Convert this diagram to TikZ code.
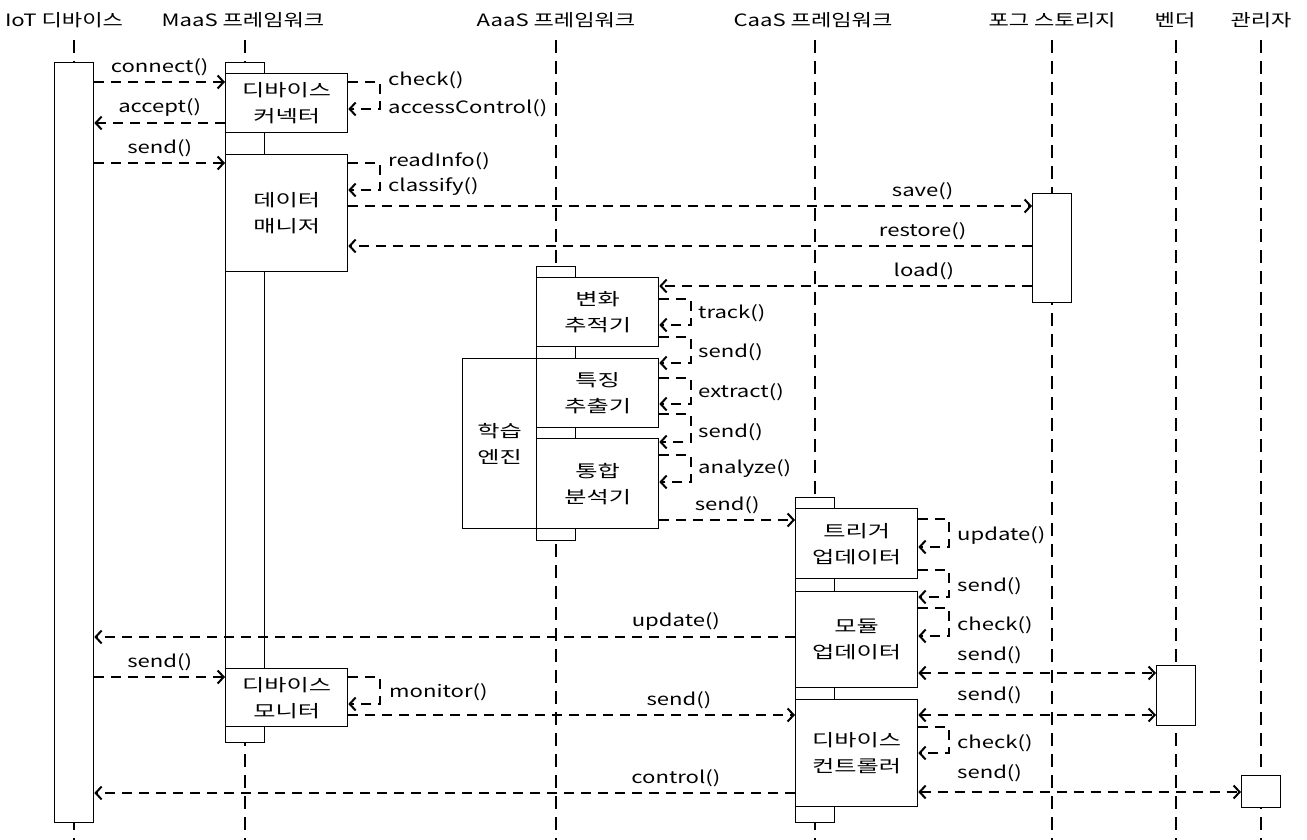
\documentclass[tikz,border=0pt]{standalone}
\usepackage{fontspec}
\setmainfont{Noto Sans CJK KR}[FakeStretch=1.3]
\newfontfamily\boxfont{Noto Sans CJK KR}[FakeStretch=1.42]
\usetikzlibrary{arrows.meta, backgrounds}

\begin{document}
\begin{tikzpicture}[x=1pt, y=-1pt, >={Straight Barb[length=6pt, width=13pt]},
  font=\fontsize{17}{26}\selectfont,
  life/.style={line width=2pt, dash pattern=on 13pt off 8pt},
  bar/.style={draw, line width=1.3pt, fill=white, anchor=north west, minimum width=39pt, inner sep=0pt},
  box/.style={draw, line width=1.3pt, fill=white, anchor=north west, minimum width=122pt, align=center, inner sep=0pt,
    font=\boxfont\fontsize{17}{26}\selectfont},
  msg/.style={line width=2pt, dash pattern=on 10pt off 7pt},
  lbl/.style={anchor=west, inner sep=0pt}]
  \useasboundingbox (0,0) rectangle (1307,840);

  % lifeline heads
  \node (iot) at (64,20) {IoT 디바이스};
  \node (maas) at (243,20) {MaaS 프레임워크};
  \node (aaas) at (556,20) {AaaS 프레임워크};
  \node (caas) at (813,20) {CaaS 프레임워크};
  \node (fog) at (1052,20) {포그 스토리지};
  \node (vendor) at (1175,20) {벤더};
  \node (admin) at (1261,20) {관리자};

  % activation bars
  \node (iotbar) [bar, minimum height=760pt] at (54,62) {};
  \node (maasbar) [bar, minimum height=680pt] at (225,62) {};
  \node (aaasbar) [bar, minimum height=274pt] at (536,266) {};
  \node (caasbar) [bar, minimum height=325pt] at (795,497) {};
  \node (fogbar) [bar, minimum height=109pt] at (1032,193) {};
  \node (vendorbar) [bar, minimum height=60pt] at (1156,665) {};
  \node (adminbar) [bar, minimum height=32pt] at (1241,775) {};

  \begin{pgfonlayer}{background}
    \foreach \b in {iotbar, maasbar, aaasbar, caasbar, fogbar, vendorbar, adminbar}
      \draw [life] (\b.north |- 0,40) -- (\b.north |- 0,840);
  \end{pgfonlayer}

  % components
  \node (connector) [box, minimum height=59pt] at (225,73) {디바이스\\커넥터};
  \node (datamgr) [box, minimum height=117pt] at (225,154) {데이터\\매니저};
  \node (monitor) [box, minimum height=58pt] at (225,668) {디바이스\\모니터};
  \node (learning) [box, minimum width=74pt, minimum height=170pt] at (462,358) {학습\\엔진};
  \node (tracker) [box, minimum height=69pt] at (536,277) {변화\\추적기};
  \node (extractor) [box, minimum height=69pt] at (536,358) {특징\\추출기};
  \node (analyzer) [box, minimum height=90pt] at (536,438) {통합\\분석기};
  \node (trigger) [box, minimum height=70pt] at (795,508) {트리거\\업데이터};
  \node (module) [box, minimum height=96pt] at (795,591) {모듈\\업데이터};
  \node (controller) [box, minimum height=107pt] at (795,699) {디바이스\\컨트롤러};

  % MaaS
  \draw [msg, ->] (iotbar.east |- 0,82) -- node (lconnect) [above=2pt] {connect()} (connector.west |- 0,82);
  \draw [msg, ->] (connector.west |- 0,123) -- node (laccept) [above=2pt] {accept()} (iotbar.east |- 0,123);
  \draw [msg, ->] (connector.east |- 0,82) -- ++(32,0) |- (connector.east |- 0,109);
  \node (lcheck) [lbl] at (388,80) {check()};
  \node (laccess) [lbl] at (388,108) {accessControl()};
  \draw [msg, ->] (iotbar.east |- 0,163) -- node (lsend) [above=2pt] {send()} (datamgr.west |- 0,163);
  \draw [msg, ->] (datamgr.east |- 0,163) -- ++(32,0) |- (datamgr.east |- 0,190);
  \node (lread) [lbl] at (388,161) {readInfo()};
  \node (lclassify) [lbl] at (388,187) {classify()};
  \draw [msg, ->] (datamgr.east |- 0,206) -- node (lsave) [above=2pt, pos=0.84] {save()} (fogbar.west |- 0,206);
  \draw [msg, ->] (fogbar.west |- 0,246) -- node (lrestore) [above=2pt, pos=0.16] {restore()} (datamgr.east |- 0,246);
  \draw [msg, ->] (fogbar.west |- 0,286) -- node (lload) [above=2pt, pos=0.29] {load()} (tracker.east |- 0,286);

  % AaaS
  \draw [msg, ->] (tracker.east |- 0,299) -- ++(32,0) |- (tracker.east |- 0,325);
  \node (ltrack) [lbl] at (698,313) {track()};
  \draw [msg, ->] (tracker.east |- 0,337) -- ++(32,0) |- (extractor.east |- 0,363);
  \node (lsend2) [lbl] at (698,352) {send()};
  \draw [msg, ->] (extractor.east |- 0,378) -- ++(32,0) |- (extractor.east |- 0,404);
  \node (lextract) [lbl] at (698,392) {extract()};
  \draw [msg, ->] (extractor.east |- 0,414) -- ++(32,0) |- (analyzer.east |- 0,442);
  \node (lsend3) [lbl] at (698,432) {send()};
  \draw [msg, ->] (analyzer.east |- 0,455) -- ++(32,0) |- (analyzer.east |- 0,482);
  \node (lanalyze) [lbl] at (698,469) {analyze()};
  \draw [msg, ->] (analyzer.east |- 0,520) -- node (lsend4) [above=2pt] {send()} (trigger.west |- 0,520);

  % CaaS
  \draw [msg, ->] (trigger.east |- 0,519) -- ++(31,0) |- (trigger.east |- 0,547);
  \node (lupdate) [lbl] at (957,535) {update()};
  \draw [msg, ->] (trigger.east |- 0,570) -- ++(31,0) |- (module.east |- 0,597);
  \node (lsend5) [lbl] at (957,586) {send()};
  \draw [msg, ->] (module.east |- 0,608) -- ++(31,0) |- (module.east |- 0,636);
  \node (lcheck2) [lbl] at (957,625) {check()};
  \draw [msg, ->] (module.west |- 0,637) -- node (lupdate2) [above=2pt, pos=0.17] {update()} (iotbar.east |- 0,637);
  \draw [msg, <->] (module.east |- 0,673) -- (vendorbar.west |- 0,673);
  \node (lsend6) [lbl] at (957,655) {send()};
  \draw [msg, ->] (iotbar.east |- 0,677) -- node (lsend7) [above=2pt] {send()} (monitor.west |- 0,677);
  \draw [msg, ->] (monitor.east |- 0,677) -- ++(32,0) |- (monitor.east |- 0,704);
  \node (lmonitor) [lbl] at (389,692) {monitor()};
  \draw [msg, ->] (monitor.east |- 0,715) -- node (lsend8) [above=2pt, pos=0.74] {send()} (controller.west |- 0,715);
  \draw [msg, <->] (controller.east |- 0,715) -- (vendorbar.west |- 0,715);
  \node (lsend9) [lbl] at (957,695) {send()};
  \draw [msg, ->] (controller.east |- 0,727) -- ++(31,0) |- (controller.east |- 0,753);
  \node (lcheck3) [lbl] at (957,743) {check()};
  \draw [msg, ->] (controller.west |- 0,793) -- node (lcontrol) [above=2pt, pos=0.17] {control()} (iotbar.east |- 0,793);
  \draw [msg, <->] (controller.east |- 0,792) -- (adminbar.west |- 0,792);
  \node (lsend10) [lbl] at (957,773) {send()};
\end{tikzpicture}
\end{document}
